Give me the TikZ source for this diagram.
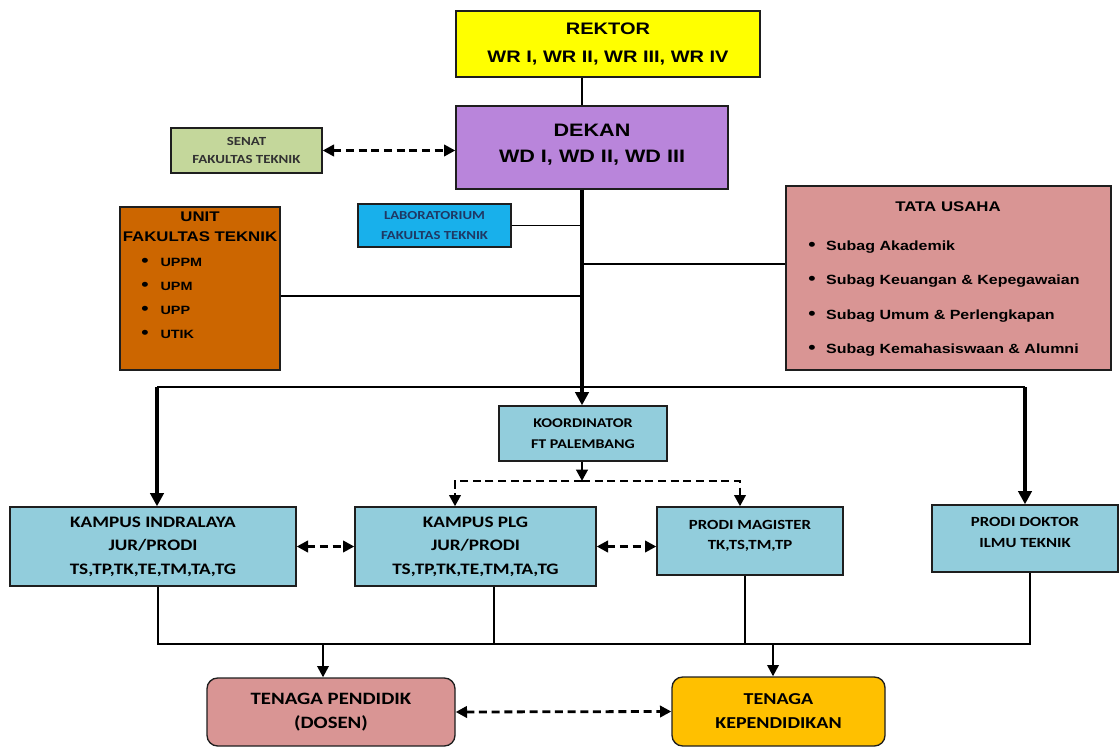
\documentclass[tikz,border=0pt]{standalone}
\usepackage{fontspec}
\setmainfont{Carlito}[FakeStretch=1.2]
\newfontfamily\arialfont{Liberation Sans}[FakeStretch=1.2]
\usetikzlibrary{arrows.meta}
\definecolor{edgegray}{RGB}{30,30,30}
\definecolor{rektorfill}{RGB}{255,255,0}
\definecolor{dekanfill}{RGB}{185,133,219}
\definecolor{senatfill}{RGB}{196,215,155}
\definecolor{labfill}{RGB}{24,176,235}
\definecolor{labtext}{RGB}{31,56,100}
\definecolor{unitfill}{RGB}{204,102,0}
\definecolor{tatafill}{RGB}{217,149,148}
\definecolor{prodifill}{RGB}{146,205,220}
\definecolor{kepfill}{RGB}{255,192,0}
\newcommand{\bigdot}{{\fontsize{13}{13}\selectfont\textbullet}}
\tikzset{
  box/.style={draw=edgegray, line width=1pt, align=center, inner sep=0pt},
  tip/.tip={Triangle[length=10pt,width=10pt]},
  smalltip/.tip={Triangle[length=8.5pt,width=8.5pt]},
  thinline/.style={line width=0.9pt},
  midline/.style={line width=1.8pt},
  trunk/.style={line width=2.6pt},
  dashline/.style={line width=2.1pt, dash pattern=on 6pt off 3.5pt},
}
\begin{document}
\begin{tikzpicture}[x=0.75pt,y=0.75pt,yscale=-1,xscale=1]
\useasboundingbox (0,0) rectangle (1120,748);
\coordinate (spine) at (582,0);
\node[box, fill=rektorfill, minimum width=228pt, minimum height=49.5pt, font={\arialfont\bfseries\fontsize{12.5}{21}\selectfont}] (rektor) at (608,44) {REKTOR\\WR I, WR II, WR III, WR IV};
\node[box, fill=dekanfill, minimum width=204pt, minimum height=62.25pt, font={\arialfont\bfseries\fontsize{13.5}{19.5}\selectfont}] (dekan) at (592,147.5) {DEKAN\\WD I, WD II, WD III\\[-13.5pt]\mbox{}};
\node[box, fill=senatfill, minimum width=113.25pt, minimum height=33.75pt, font={\bfseries\fontsize{9.3}{13.5}\selectfont}, text={rgb,255:red,50;green,50;blue,50}] (senat) at (246.5,150.5) {SENAT\\FAKULTAS TEKNIK};
\node[box, fill=labfill, minimum width=114.75pt, minimum height=32.25pt, font={\bfseries\fontsize{9.2}{15}\selectfont}, text=labtext] (lab) at (434.5,225.5) {LABORATORIUM\\FAKULTAS TEKNIK};
\node[box, fill=unitfill, minimum width=120pt, minimum height=122.25pt] (unit) at (200,288.5) {};
\node[align=center, inner sep=0pt, font={\arialfont\bfseries\fontsize{10.5}{15}\selectfont}] (unittitle) at (200,227) {UNIT\\FAKULTAS TEKNIK};
\node[anchor=west, align=left, inner sep=0pt, font={\arialfont\bfseries\fontsize{9}{18}\selectfont}] (unitlist) at (141,298) {\bigdot\hspace{9pt}UPPM\\\bigdot\hspace{9pt}UPM\\\bigdot\hspace{9pt}UPP\\\bigdot\hspace{9pt}UTIK};
\node[box, fill=tatafill, minimum width=243.75pt, minimum height=138pt] (tata) at (948.5,278) {};
\node[inner sep=0pt, font={\arialfont\bfseries\fontsize{10.5}{12}\selectfont}] (tatatitle) at (948,207) {TATA USAHA};
\node[anchor=west, align=left, inner sep=0pt, font={\arialfont\bfseries\fontsize{10}{25.9}\selectfont}] (tatalist) at (808,298.5) {\bigdot\hspace{8pt}Subag Akademik\\\bigdot\hspace{8pt}Subag Keuangan \& Kepegawaian\\\bigdot\hspace{8pt}Subag Umum \& Perlengkapan\\\bigdot\hspace{8pt}Subag Kemahasiswaan \& Alumni};
\node[box, fill=prodifill, minimum width=126pt, minimum height=41.25pt, font={\bfseries\fontsize{10}{15.75}\selectfont}] (koord) at (583,433.5) {KOORDINATOR\\FT PALEMBANG};
\node[box, fill=prodifill, minimum width=214.5pt, minimum height=59.25pt, font={\bfseries\fontsize{12}{17.6}\selectfont}] (indralaya) at (153,546.5) {KAMPUS INDRALAYA\\JUR/PRODI\\TS,TP,TK,TE,TM,TA,TG};
\node[box, fill=prodifill, minimum width=180.75pt, minimum height=59.25pt, font={\bfseries\fontsize{12}{17.6}\selectfont}] (plg) at (475.5,546.5) {KAMPUS PLG\\JUR/PRODI\\TS,TP,TK,TE,TM,TA,TG};
\node[box, fill=prodifill, minimum width=139.5pt, minimum height=51pt, font={\bfseries\fontsize{10.5}{15}\selectfont}] (magister) at (750,541) {PRODI MAGISTER\\TK,TS,TM,TP\\[-6pt]\mbox{}};
\node[box, fill=prodifill, minimum width=139.5pt, minimum height=50.25pt, font={\bfseries\fontsize{10.5}{15.75}\selectfont}] (doktor) at (1025,538.5) {PRODI DOKTOR\\ILMU TEKNIK\\[-6.5pt]\mbox{}};
\node[box, fill=tatafill, rounded corners=8pt, minimum width=186pt, minimum height=51pt, font={\bfseries\fontsize{13}{18}\selectfont}] (pendidik) at (331,712) {TENAGA PENDIDIK\\(DOSEN)};
\node[box, fill=kepfill, rounded corners=8pt, minimum width=159.75pt, minimum height=51.75pt, font={\bfseries\fontsize{12.5}{18}\selectfont}] (kependidikan) at (778.5,711.5) {TENAGA\\KEPENDIDIKAN};
\coordinate (labj) at (582,224);
\coordinate (tataj) at (582,264);
\coordinate (unitj) at (582,296);
\coordinate (barL) at (157,387);
\coordinate (barR) at (1025,387);
\coordinate (fork) at (582,481);
\coordinate (forkL) at (455,481);
\coordinate (forkR) at (740,481);
\coordinate (busL) at (158,644);
\coordinate (busP) at (494,644);
\coordinate (busM) at (745,644);
\coordinate (busR) at (1030,644);
\coordinate (dPend) at (323,644);
\coordinate (dKep) at (773,644);
\draw[midline] (rektor.south -| spine) -- (dekan.north -| spine);
\draw[trunk, -tip] (dekan.south -| spine) -- (koord.north -| spine);
\draw[dashline, smalltip-smalltip] (senat.east) -- (senat.east -| dekan.west);
\draw[thinline] (lab.east) -- (lab.east -| spine);
\draw[thinline] (tataj) -- (tataj -| tata.west);
\draw[thinline] (unitj -| unit.east) -- (unitj);
\draw[thinline] (barL) -- (barR);
\draw[trunk, -tip] (barL) -- (barL |- indralaya.north);
\draw[trunk, -tip] (barR) -- (barR |- doktor.north);
\draw[dashline, -smalltip] (koord.south -| spine) -- (fork);
\draw[dashline, -smalltip] (fork) -| (plg.north -| forkL);
\draw[dashline, -smalltip] (fork) -| (magister.north -| forkR);
\draw[dashline, smalltip-smalltip] (indralaya.east) -- (plg.west |- indralaya.east);
\draw[dashline, smalltip-smalltip] (plg.east) -- (plg.east -| magister.west);
\draw[thinline] (busL |- indralaya.south) -- (busL) -- (busR) -- (busR |- doktor.south);
\draw[thinline] (busP |- plg.south) -- (busP);
\draw[thinline] (busM |- magister.south) -- (busM);
\draw[midline, -smalltip] (dPend) -- (dPend |- pendidik.north);
\draw[midline, -smalltip] (dKep) -- (dKep |- kependidikan.north);
\draw[dashline, smalltip-smalltip] (pendidik.east) -- (kependidikan.west);
\end{tikzpicture}
\end{document}
